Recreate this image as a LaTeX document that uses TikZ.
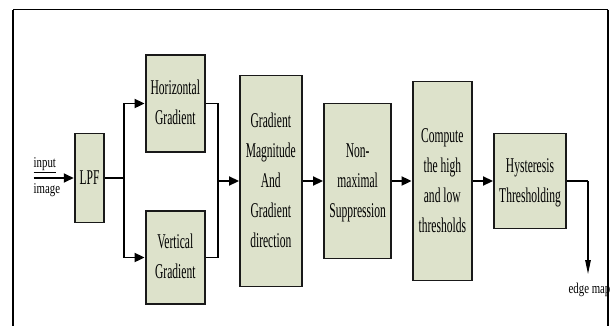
\documentclass[tikz,border=0pt]{standalone}
\usepackage{fontspec}
\setmainfont{Liberation Serif}
\usetikzlibrary{arrows.meta}
\definecolor{boxfill}{HTML}{DDE2CB}
% condensed, tall lettering used inside the blocks
\newcommand{\blocktext}[1]{\scalebox{0.55}[1]{\fontsize{21}{30}\selectfont\begin{tabular}{@{}c@{}}#1\end{tabular}}}
\newcommand{\labeltext}[1]{\scalebox{0.72}[1]{\fontsize{15}{18}\selectfont #1}}
\tikzset{
  block/.style={draw=black!90, line width=1.9pt, fill=boxfill, inner sep=0pt, anchor=center},
  wire/.style={line width=1.8pt, draw=black},
  flow/.style={wire, -{Triangle[length=10pt,width=9pt]}},
  outflow/.style={line width=1.2pt, -{Triangle[length=14pt,width=5.5pt]}},
}
\begin{document}
\begin{tikzpicture}[x=1pt,y=-1pt]
\useasboundingbox (0,0) rectangle (610,325);
% outer frame
\draw[line width=1.8pt] (13,9.5) -- (608,9.5);
\draw[line width=1.8pt] (13,9.5) -- (13,340);
\draw[line width=1.8pt] (608,9.5) -- (608,340);

% processing blocks
\node[block, minimum width=29.6pt, minimum height=89pt]  (lpf) at (89.5,178)   {\blocktext{LPF}};
\node[block, minimum width=59.5pt, minimum height=97pt]  (hg)  at (175.3,103.5) {\blocktext{Horizontal\\Gradient}};
\node[block, minimum width=59.5pt, minimum height=93pt]  (vg)  at (175.3,257.5) {\blocktext{Vertical\\Gradient}};
\node[block, minimum width=61.6pt, minimum height=211pt] (gm)  at (270.8,181)  {\blocktext{Gradient\\Magnitude\\And\\Gradient\\direction}};
\node[block, minimum width=67.4pt, minimum height=155pt] (nms) at (357.7,181)  {\blocktext{Non-\\maximal\\Suppression}};
\node[block, minimum width=59.5pt, minimum height=199pt] (ct)  at (442.3,181)  {\blocktext{Compute\\the high\\and low\\thresholds}};
\node[block, minimum width=72pt,   minimum height=95pt]  (ht)  at (530,181)    {\blocktext{Hysteresis\\Thresholding}};

% input and output labels
\coordinate (src) at (33.5,178);
\node[anchor=south west, inner sep=0pt] (inlbl) at (33.5,173) {\labeltext{\underline{input}}};
\node[anchor=north west, inner sep=0pt] (imlbl) at (33.5,183) {\labeltext{image}};
\coordinate (split) at (123.7,178);
\coordinate (merge) at (218,181);
\coordinate (drop) at (588,274);
\node[inner sep=0pt] (edge) at (589.5,290) {\labeltext{edge map}};

% connectors
\draw[flow] (src) -- (lpf.west);
\draw[wire] (lpf.east) -- (split);
\draw[flow] (split) |- (hg.west);
\draw[flow] (split) |- (vg.west);
\draw[wire] (hg.east) -| (merge);
\draw[wire] (vg.east) -| (merge);
\draw[flow] (merge) -- (gm.west);
\draw[flow] (gm.east) -- (nms.west);
\draw[flow] (nms.east) -- (ct.west);
\draw[flow] (ct.east) -- (ht.west);
\draw[wire] (ht.east) -| (drop |- ht.east);
\draw[outflow] (drop |- ht.east) -- (drop);
\end{tikzpicture}
\end{document}
